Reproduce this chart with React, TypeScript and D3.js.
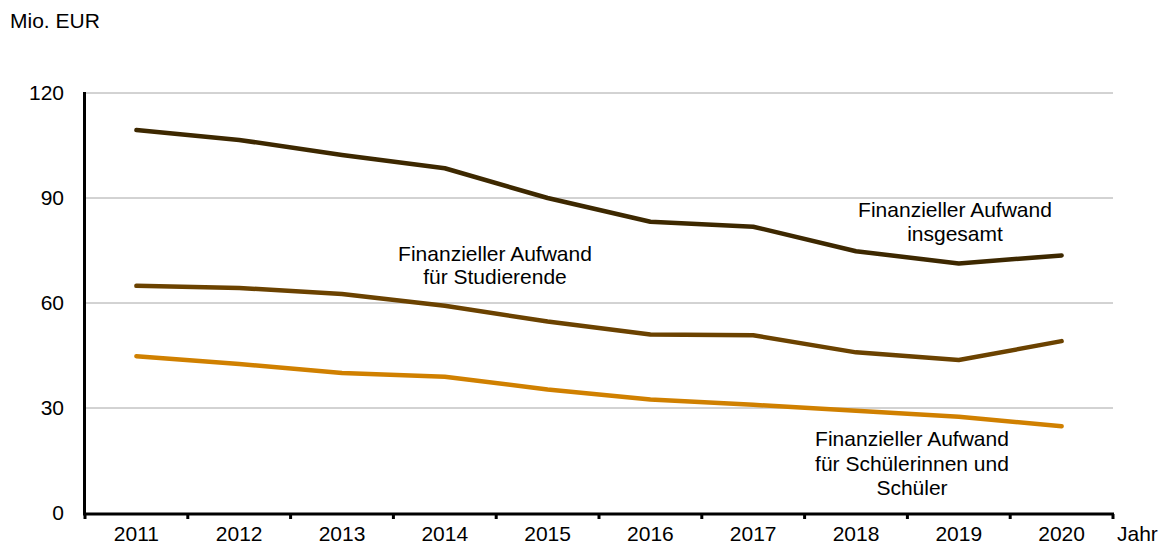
import React from "react";
import * as d3 from "d3";

const years = ["2011", "2012", "2013", "2014", "2015", "2016", "2017", "2018", "2019", "2020"];
const insgesamt = [109.4, 106.6, 102.3, 98.5, 90.0, 83.2, 81.8, 74.8, 71.3, 73.6];
const studierende = [64.9, 64.3, 62.6, 59.2, 54.7, 51.0, 50.8, 45.9, 43.7, 49.1];
const schueler = [44.8, 42.6, 40.0, 38.9, 35.3, 32.4, 30.9, 29.2, 27.5, 24.8];
const yTicks = [0, 30, 60, 90, 120];

const W = 1159;
const H = 546;
const FONT = "'Liberation Sans', Arial, sans-serif";
const FS = 21;

export default function App() {
  const x = d3.scaleBand<string>().domain(years).range([85, 1113]);
  const y = d3.scaleLinear().domain([0, 120]).range([513, 93]);
  const cx = (d: string) => (x(d) as number) + x.bandwidth() / 2;
  const line = d3
    .line<number>()
    .x((_, i) => cx(years[i]))
    .y((v) => y(v));

  const series = [
    { values: insgesamt, color: "#3d2800" },
    { values: studierende, color: "#6b4200" },
    { values: schueler, color: "#d08000" },
  ];

  const boundaries = years.map((d) => x(d) as number).concat([1113]);

  return (
    <svg width={W} height={H} style={{ position: "absolute", left: 0, top: 0 }} fontFamily={FONT}>
      <rect width={W} height={H} fill="#fff" />
      <text x={10} y={28} fontSize={FS} fill="#000">Mio. EUR</text>
      {yTicks.filter((t) => t > 0).map((t) => (
        <line key={"g" + t} x1={86} x2={1113} y1={y(t)} y2={y(t)} stroke="#a6a6a6" strokeWidth={1} />
      ))}
      {yTicks.map((t) => (
        <text key={"yl" + t} x={64} y={y(t)} dy="0.35em" textAnchor="end" fontSize={FS} fill="#000">
          {t}
        </text>
      ))}
      {series.map((s, i) => (
        <path key={i} d={line(s.values) || ""} fill="none" stroke={s.color} strokeWidth={4.5}
          strokeLinecap="round" strokeLinejoin="round" />
      ))}
      <line x1={84.5} x2={84.5} y1={92} y2={515} stroke="#000" strokeWidth={3} />
      <line x1={83} x2={1114} y1={514} y2={514} stroke="#000" strokeWidth={3} />
      {boundaries.map((b, i) => (
        <line key={"t" + i} x1={b} x2={b} y1={514} y2={519} stroke="#000" strokeWidth={3} />
      ))}
      {years.map((d) => (
        <text key={d} x={cx(d)} y={541} textAnchor="middle" fontSize={FS} fill="#000">{d}</text>
      ))}
      <text x={1117} y={541} fontSize={FS} fill="#000">Jahr</text>
      <g fontSize={FS} fill="#000" textAnchor="middle">
        <text x={955} y={217}>Finanzieller Aufwand</text>
        <text x={955} y={241}>insgesamt</text>
        <text x={495} y={261}>Finanzieller Aufwand</text>
        <text x={495} y={284}>für Studierende</text>
        <text x={912} y={446}>Finanzieller Aufwand</text>
        <text x={912} y={471}>für Schülerinnen und</text>
        <text x={912} y={495}>Schüler</text>
      </g>
    </svg>
  );
}
